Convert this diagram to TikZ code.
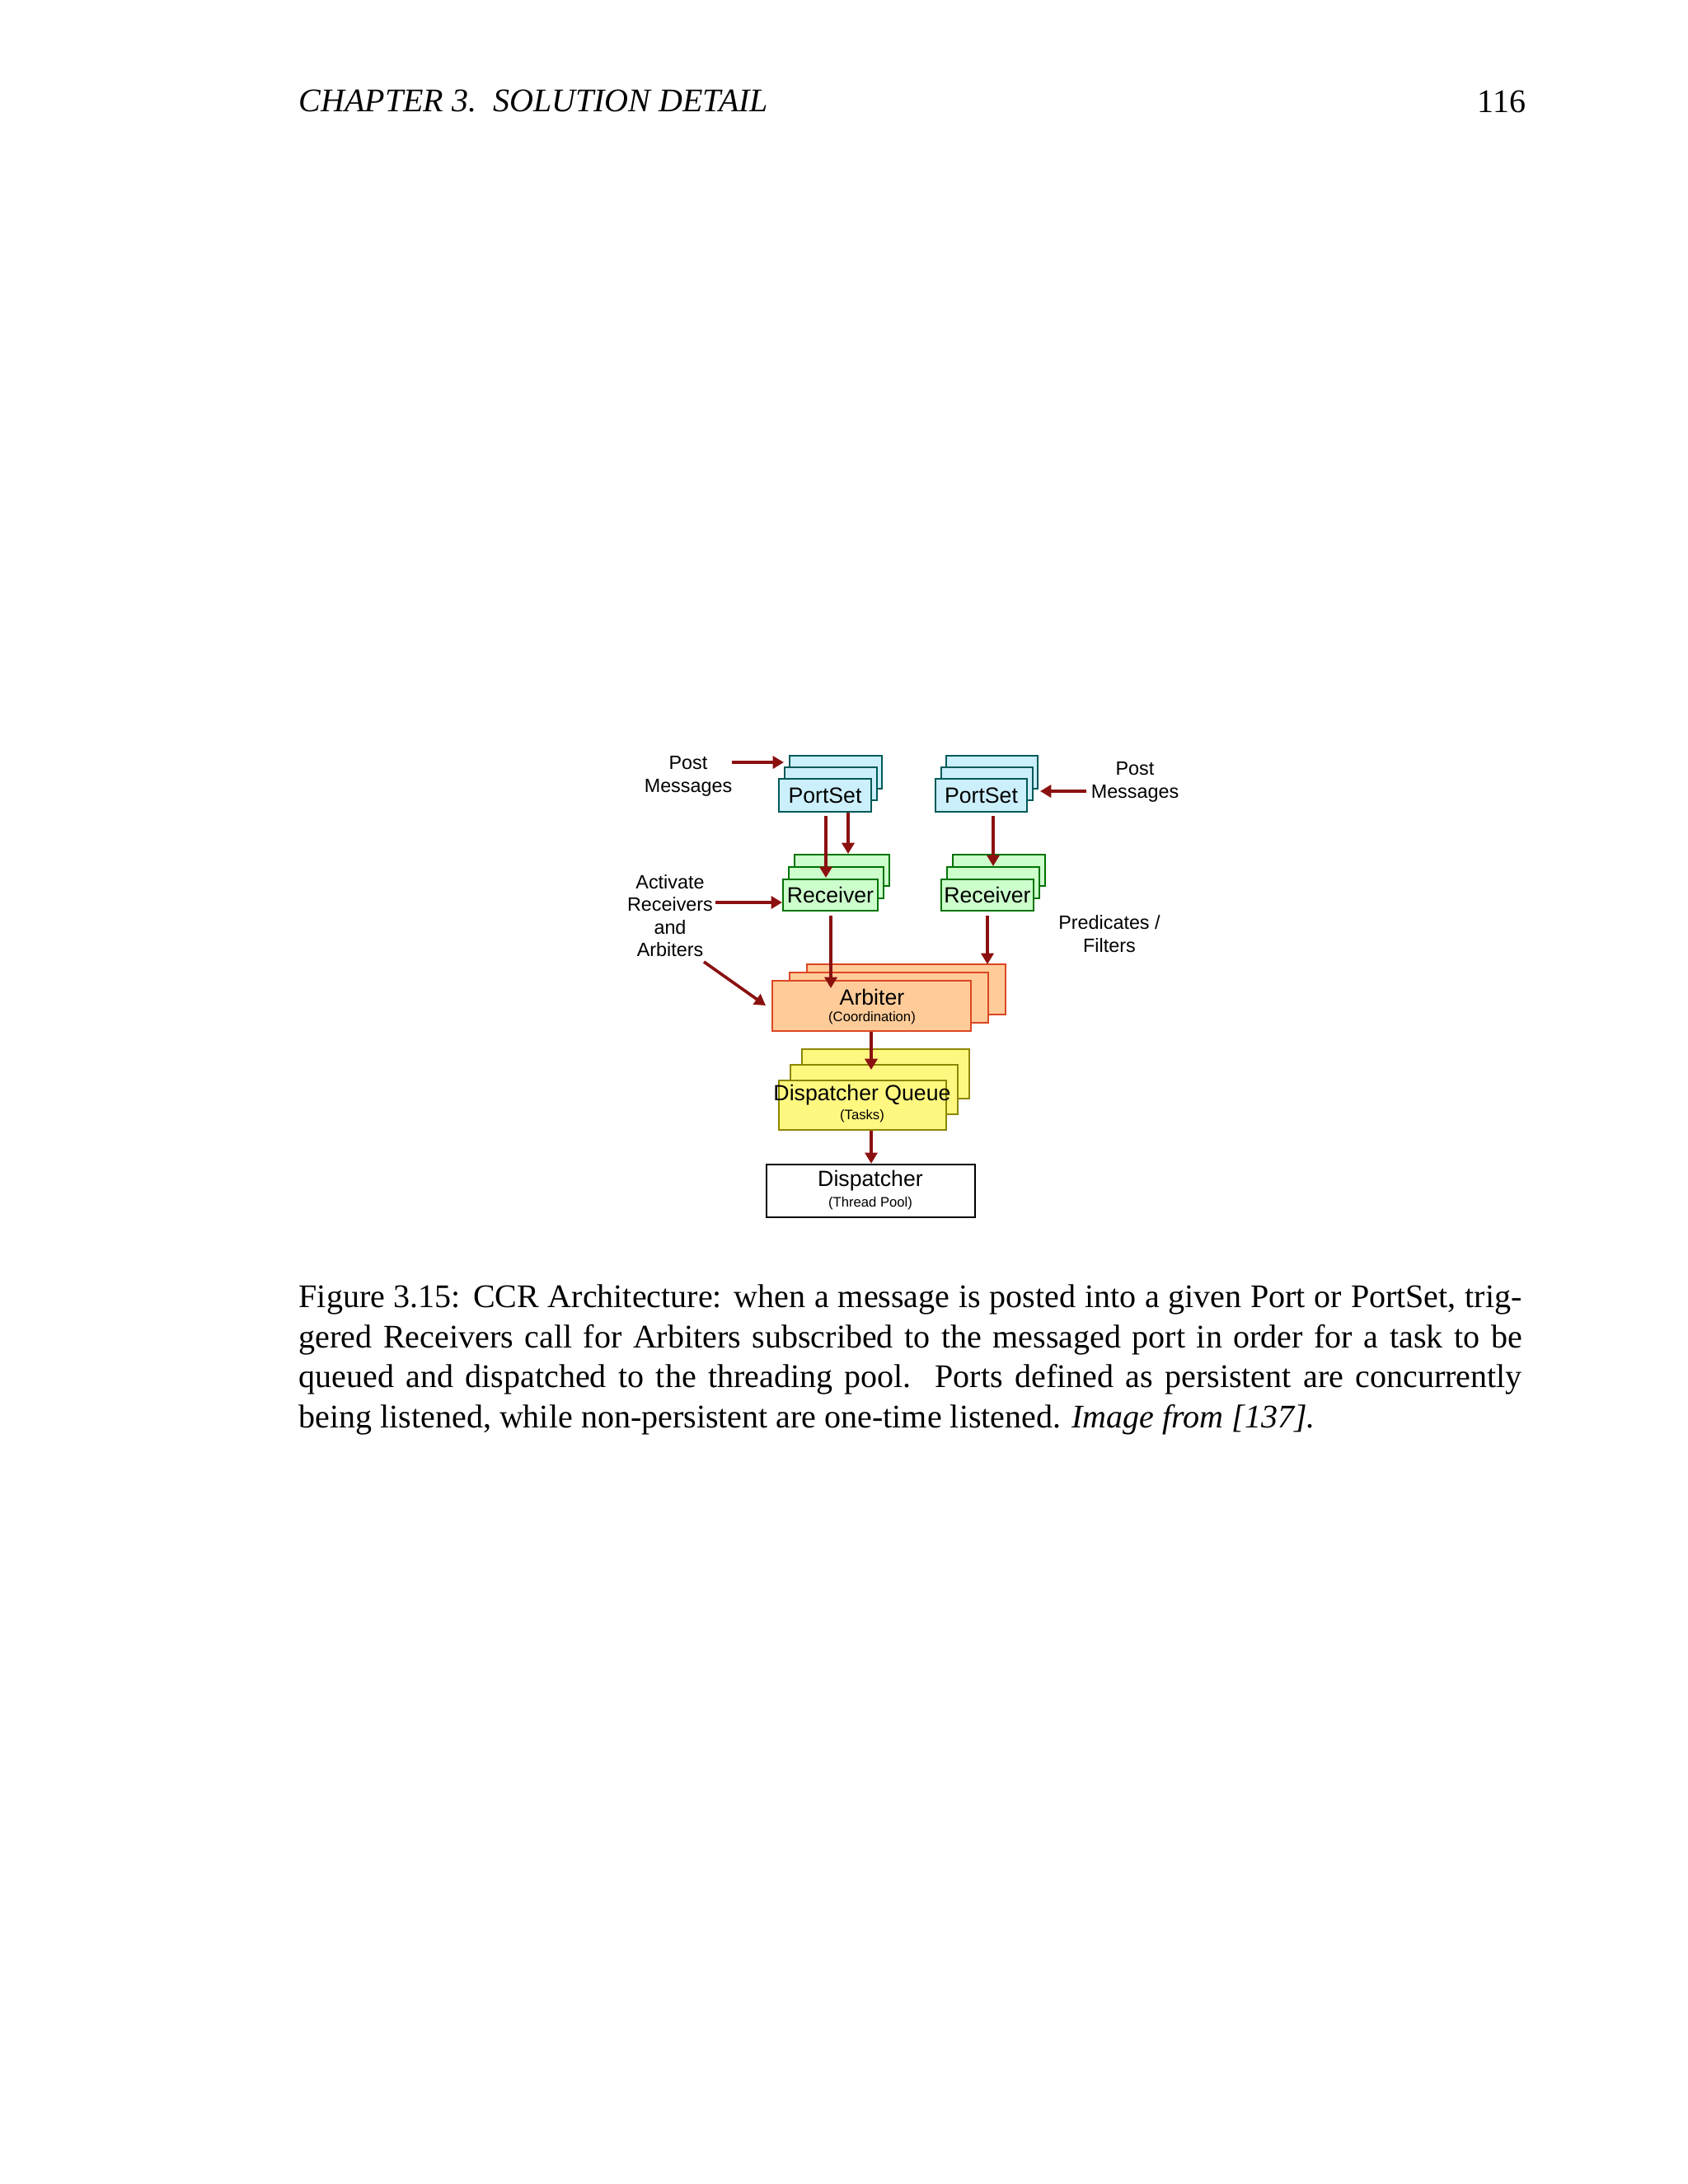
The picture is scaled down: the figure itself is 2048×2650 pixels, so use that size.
\documentclass[tikz,border=0pt]{standalone}
\usepackage{fontspec}
\setmainfont{Liberation Serif}
\newfontfamily\arialf{Liberation Sans}
\usetikzlibrary{arrows.meta,fit}
\definecolor{arr}{HTML}{8B1010}
\tikzset{
  x=0.105394mm, y=-0.105394mm,
  ps/.style={draw=teal!70!black, fill=cyan!20, line width=0.6pt},
  rc/.style={draw=green!45!black, fill=green!20, line width=0.6pt},
  ab/.style={draw=red!45!brown, fill=orange!40, line width=0.6pt},
  dq/.style={draw=olive, fill=yellow!50, line width=0.6pt},
  dp/.style={draw=black, fill=white, line width=0.7pt},
  fl/.style={inner sep=0pt},
  lbl/.style={font=\arialf\fontsize{8}{9}\selectfont, inner sep=0pt},
  sml/.style={font=\arialf\fontsize{5}{6}\selectfont, inner sep=0pt},
  side/.style={font=\arialf\fontsize{7}{8.2}\selectfont, align=center, inner sep=0pt},
  ar/.style={draw=arr, line width=1.1pt, -{Triangle[length=4pt,width=4.5pt]}},
}
\newcommand\layers[7]{%
  \draw[#1] (#2+2*#6,#3+2*#7) rectangle (#4+2*#6,#5+2*#7);
  \draw[#1] (#2+#6,#3+#7) rectangle (#4+#6,#5+#7);}
\begin{document}
\begin{tikzpicture}
\useasboundingbox (0,0) rectangle (2048,2650);
% header
\node[anchor=west, inner sep=0, font=\itshape\fontsize{12}{14.5}\selectfont] (hd) at (362,123) {CHAPTER 3.\ \ SOLUTION DETAIL};
\node[anchor=east, inner sep=0, font=\fontsize{12}{14.5}\selectfont] (pg) at (1852,123) {116};
% portsets
\layers{ps}{945}{945}{1057}{985}{6.5}{-14}
\node[ps,fl,fit={(945,945)(1057,985)}] (ps1) {};
\node[lbl] at (ps1.center) {PortSet};
\layers{ps}{1135}{945}{1246}{985}{6.5}{-14}
\node[ps,fl,fit={(1135,945)(1246,985)}] (ps2) {};
\node[lbl] at (ps2.center) {PortSet};
% receivers
\layers{rc}{950}{1067}{1065}{1105}{7}{-15}
\node[rc,fl,fit={(950,1067)(1065,1105)}] (rc1) {};
\node[lbl] at (rc1.center) {Receiver};
\layers{rc}{1142}{1067}{1254}{1105}{7}{-15}
\node[rc,fl,fit={(1142,1067)(1254,1105)}] (rc2) {};
\node[lbl] at (rc2.center) {Receiver};
% arbiter
\layers{ab}{937}{1190}{1178}{1251}{21}{-10}
\node[ab,fl,fit={(937,1190)(1178,1251)}] (ab) {};
\node[lbl] at (1058,1210) {Arbiter};
\node[sml] at (1058,1235) {(Coordination)};
% dispatcher queue
\layers{dq}{945}{1311}{1148}{1371}{14}{-19}
\node[dq,fl,fit={(945,1311)(1148,1371)}] (dq) {};
\node[lbl] at (1046,1329) {Dispatcher Queue};
\node[sml] at (1046,1354) {(Tasks)};
% dispatcher
\node[dp,fl,fit={(930,1413)(1183,1477)}] (dp) {};
\node[lbl] at (1056,1433) {Dispatcher};
\node[sml] at (1056,1460) {(Thread Pool)};
% side labels
\node[side] (pm1) at (835,942) {Post\\Messages};
\node[side] (pm2) at (1377,949) {Post\\Messages};
\node[side] (act) at (813,1111) {Activate\\Receivers\\and\\Arbiters};
\node[side] (pred) at (1346,1133) {Predicates /\\Filters};
% arrows
\coordinate (a1s) at (888,925); \coordinate (a1e) at (951,925);
\draw[ar] (a1s) -- (a1e);
\coordinate (a2s) at (1318,960); \coordinate (a2e) at (1262,960);
\draw[ar] (a2s) -- (a2e);
\draw[ar] (ps1.south -| 1002,0) ++(0,4) -- (1002,1065);
\draw[ar] (ps1.south -| 1029,0) -- (1029,1036);
\draw[ar] (ps2.south -| 1205,0) ++(0,4) -- (1205,1051);
\draw[ar] (868,1095) -- (rc1.west |- 0,1095);
\draw[ar] (rc1.south -| 1008,0) ++(0,5) -- (1008,1199);
\draw[ar] (rc2.south -| 1198,0) ++(0,5) -- (1198,1170);
\draw[ar] (854,1167) -- (929,1220);
\draw[ar] (ab.south -| 1057,0) -- (1057,1298);
\draw[ar] (dq.south -| 1057,0) -- (dp.north -| 1057,0);
% caption
\node[anchor=north west, inner sep=0, text width=445pt, align=justify,
      font=\fontsize{12}{14.6}\selectfont] (cap) at (362,1558)
{Figure 3.15: CCR Architecture: when a message is posted into a given Port or PortSet, trig-\linebreak
gered Receivers call for Arbiters subscribed to the messaged port in order for a task to be\linebreak
queued and dispatched to the threading pool.\ \ Ports defined as persistent are concurrently\linebreak
being listened, while non-persistent are one-time listened. \textit{Image from [137].}};
\end{tikzpicture}
\end{document}
